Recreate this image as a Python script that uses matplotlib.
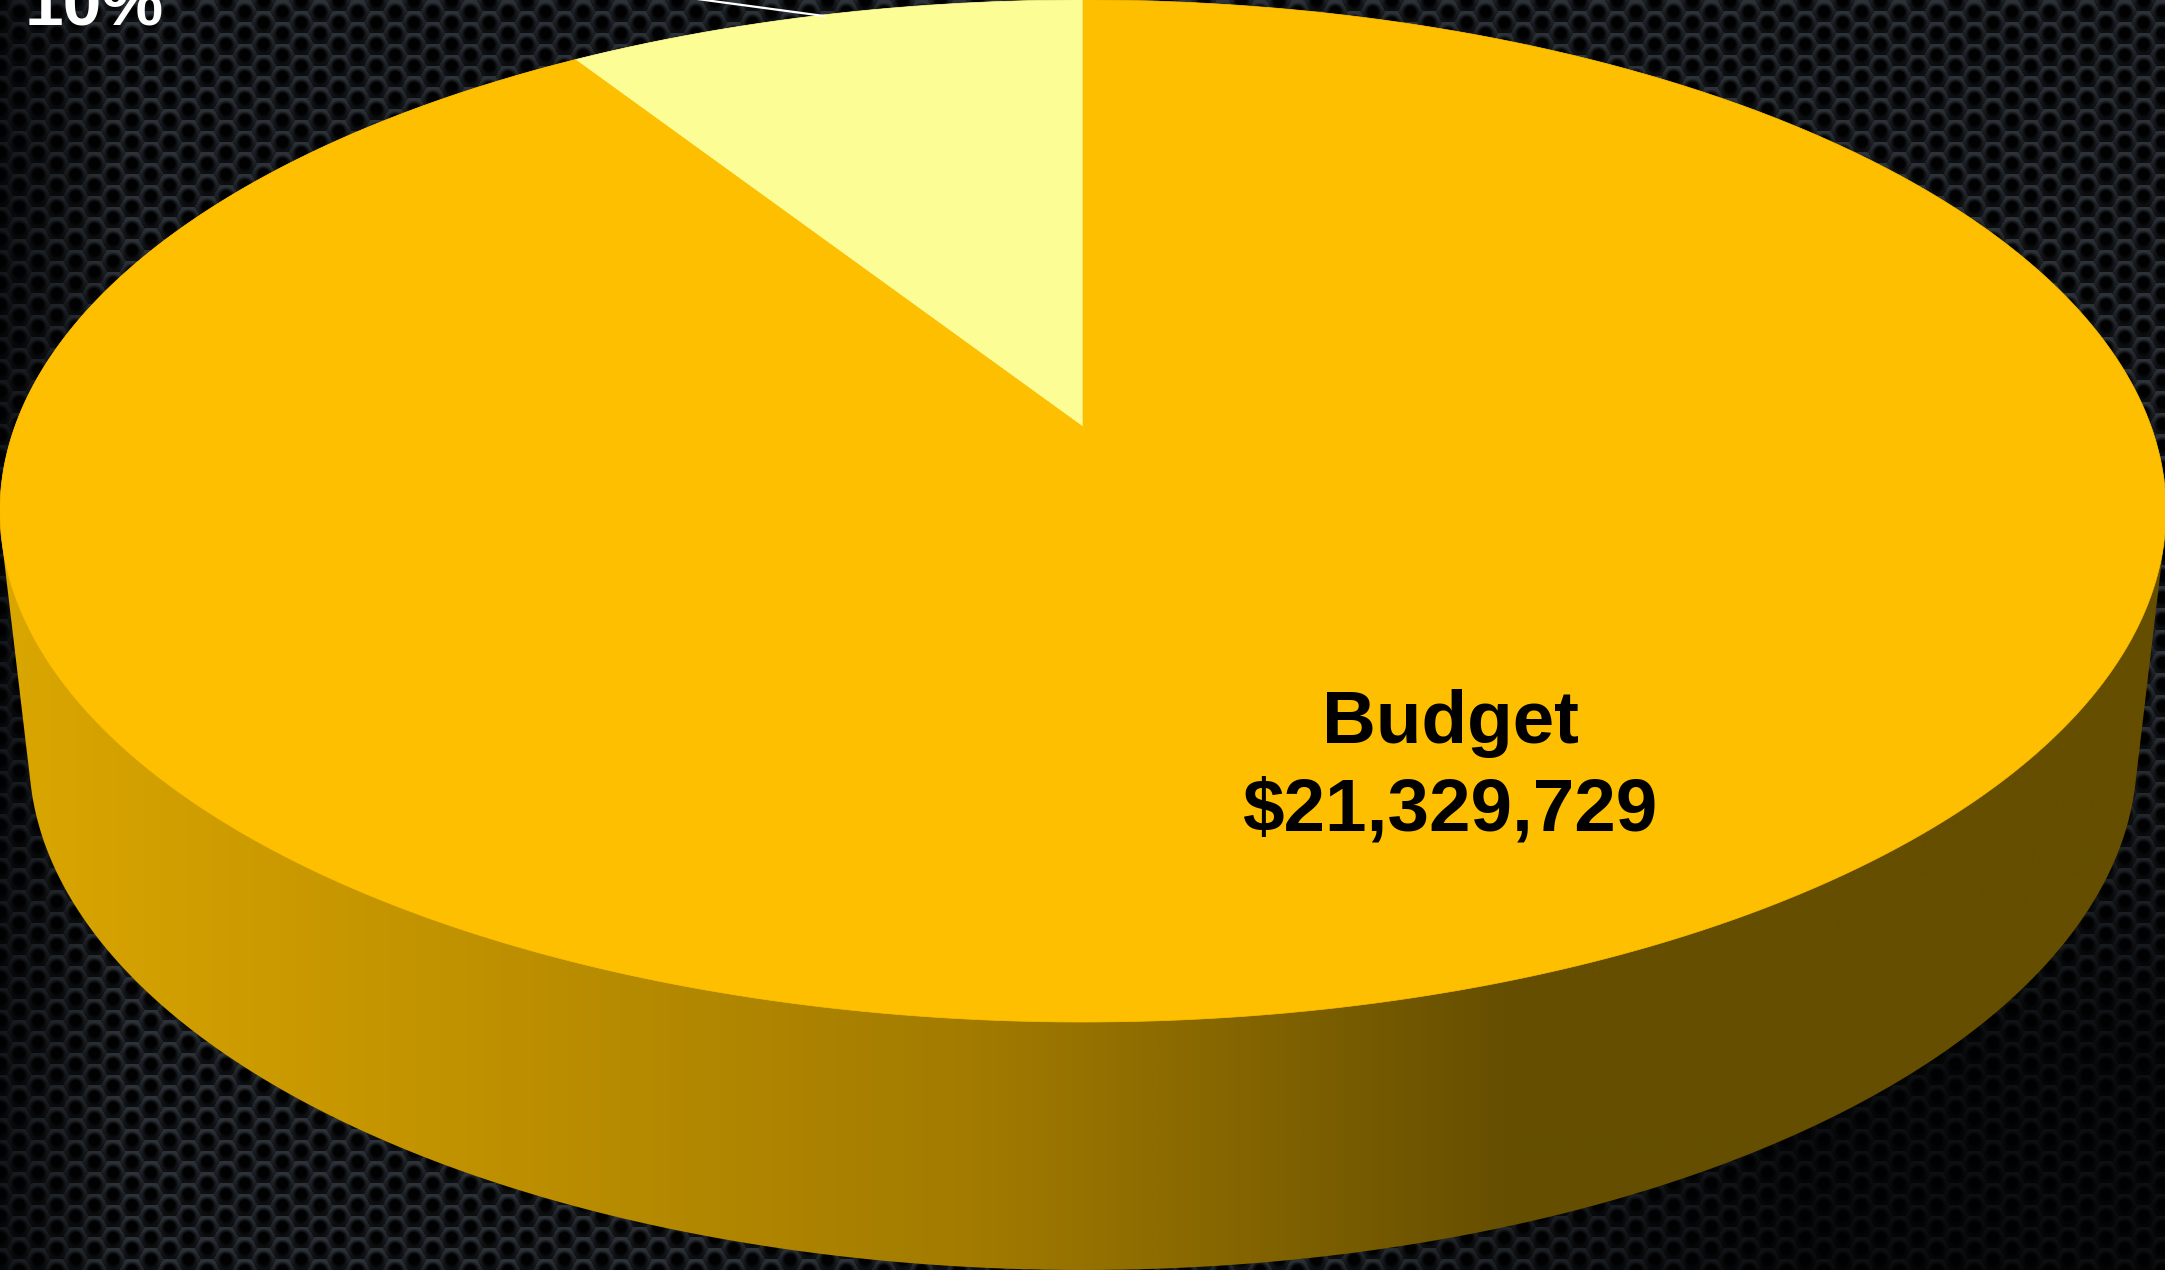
import numpy as np
import matplotlib
matplotlib.use("Agg")
import matplotlib.pyplot as plt
from matplotlib.patches import Polygon
from matplotlib.colors import LinearSegmentedColormap

# ---- chart values ----
categories = ["Budget", "Other"]
shares = [90.9, 9.1]
budget_label = ["Budget", "$21,329,729"]
other_label = "10%"

W, H = 2165, 1270
plt.rcParams['font.family'] = ['Liberation Sans', 'DejaVu Sans']
fig = plt.figure(figsize=(W / 100, H / 100), dpi=100)
ax = fig.add_axes([0, 0, 1, 1])
ax.set_xlim(0, W)
ax.set_ylim(H, 0)
ax.axis("off")

# ---- textured background: staggered dark holes with lighter crescents ----
yy, xx = np.mgrid[0:H, 0:W].astype(float)
px, py = 18.8, 21.7
col0 = np.floor(xx / px + 0.5)
best = np.full(xx.shape, 1e9)
bdy = np.zeros(xx.shape)
for off in (-1, 0, 1):
    col = col0 + off
    dy = (py / 2) * (col % 2)
    ddx = xx - col * px
    ddy = (yy - dy + py / 2) % py - py / 2
    d = np.hypot(ddx, ddy)
    m = d < best
    best[m] = d[m]
    bdy[m] = ddy[m]
rim = np.clip((best - 5.0) / 4.0, 0, 1)
crescent = 0.62 + 0.38 * np.clip(-bdy / np.maximum(best, 1), -1, 1)
val = rim * crescent
left = 0.45 + 0.55 * np.clip(xx / 120, 0, 1)
corner = 1 - 0.72 * np.clip((xx - 1300) / 500, 0, 1) * np.clip((yy - 700) / 350, 0, 1)
light = val * left * corner
bgr = np.dstack([0.004 + 0.175 * light,
                 0.006 + 0.195 * light,
                 0.010 + 0.215 * light])
ax.imshow(bgr, extent=(0, W, H, 0), aspect="auto", zorder=0, interpolation="bilinear")
ax.set_xlim(0, W)
ax.set_ylim(H, 0)

# ---- perspective projection of the pie disc ----
cx = 1083.0
apex_y, top_bottom = 427.0, 1022.0
k = 2 * apex_y / top_bottom - 1
c = 1083.0 * np.sqrt(1 - k * k)


def project(theta):
    """theta: radians clockwise from 12 o'clock on the disc."""
    u, v = np.sin(theta), -np.cos(theta)
    den = 1 + k * v
    return cx + c * u / den, apex_y * (1 + v) / den


def wedge(a0, a1, n=400):
    t = np.linspace(a0, a1, n)
    x, y = project(t)
    return np.column_stack([np.r_[cx, x], np.r_[apex_y, y]])


# ---- side wall: hull of the top rim and the lower rim ----
def hull(pts):
    pts = sorted(set(map(tuple, np.round(pts, 2))))
    def half(seq):
        out = []
        for p in seq:
            while len(out) > 1 and ((out[-1][0]-out[-2][0])*(p[1]-out[-2][1])
                                    - (out[-1][1]-out[-2][1])*(p[0]-out[-2][0])) <= 0:
                out.pop()
            out.append(p)
        return out[:-1]
    return np.array(half(pts) + half(pts[::-1]))


t = np.linspace(0, 2 * np.pi, 720, endpoint=False)
tx, ty = project(t)
lx = cx + 1054 * np.cos(t)
ly = 755 + 515 * np.sin(t)
side = hull(np.column_stack([np.r_[tx, lx], np.r_[ty, ly]]))
side_patch = Polygon(side, closed=True, fc="none", ec="none", zorder=1)
ax.add_patch(side_patch)
cmap = LinearSegmentedColormap.from_list(
    "side", [(0, "#DAA600"), (0.2, "#C29300"), (0.45, "#A27B00"), (0.7, "#654E00"), (1, "#654E00")])
grad = np.linspace(0, 1, 1024).reshape(1, -1)
im = ax.imshow(grad, extent=(0, W, H, 0), aspect="auto", cmap=cmap, zorder=1)
im.set_clip_path(side_patch)
ax.set_xlim(0, W)
ax.set_ylim(H, 0)

# ---- top face, from the shares ----
frac = np.array(shares) / sum(shares)
a_other = 2 * np.pi * frac[1]
ax.add_patch(Polygon(wedge(-a_other, 0), closed=True, fc="#FDFD96", ec="#FDFD96", lw=0.5, zorder=2))
ax.add_patch(Polygon(wedge(0, 2 * np.pi - a_other, 1200), closed=True, fc="#FDBF00", ec="#FDBF00", lw=0.5, zorder=3))

# ---- leader line and labels ----
ax.plot([690, 824], [-2, 16], color="white", lw=1.6, zorder=4, clip_on=True)
ax.text(25, 25, other_label, color="white", fontsize=50, fontweight="bold",
        ha="left", va="baseline", zorder=5)
ax.text(1450, 743, budget_label[0], color="black", fontsize=53.7, fontweight="bold",
        ha="center", va="baseline", zorder=5)
ax.text(1450, 830, budget_label[1], color="black", fontsize=53.7, fontweight="bold",
        ha="center", va="baseline", zorder=5)

fig.savefig("out.png", dpi=100)
